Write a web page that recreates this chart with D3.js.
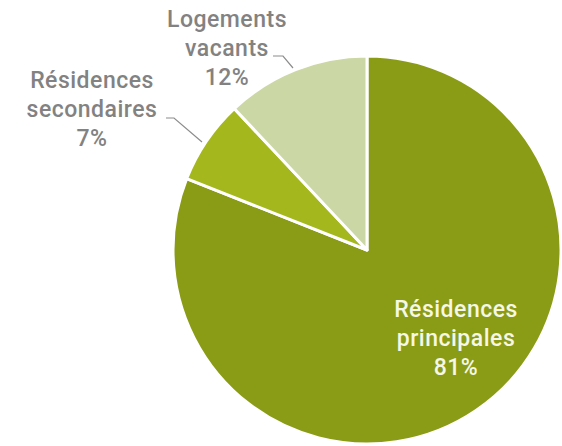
<!DOCTYPE html>
<html>
<head>
<meta charset="utf-8">
<script src="https://cdn.jsdelivr.net/npm/d3@7"></script>
<style>
  html, body { margin: 0; padding: 0; background: #fff; }
  svg { display: block; }
  text { font-family: Roboto, "Noto Sans", sans-serif; font-weight: 500; }
</style>
</head>
<body>
<svg id="chart" width="562" height="446"></svg>
<script>
// Parc de logements par type d'occupation (%)
const categories = ["Résidences principales", "Résidences secondaires", "Logements vacants"];
const labelLines = [["Résidences", "principales"], ["Résidences", "secondaires"], ["Logements", "vacants"]];
const values = [81, 7, 12];
const colors = ["#8a9c16", "#a4b81d", "#cbd7a5"];

const width = 562, height = 446;
const cx = 367, cy = 250, radius = 194;

const svg = d3.select("#chart");
const g = svg.append("g").attr("transform", `translate(${cx},${cy})`);

const pie = d3.pie().sort(null).value(d => d.value);
const arcs = pie(categories.map((c, i) => ({ name: c, value: values[i], lines: labelLines[i], color: colors[i] })));
const arc = d3.arc().innerRadius(0).outerRadius(radius);

g.selectAll("path.slice")
  .data(arcs)
  .join("path")
  .attr("class", "slice")
  .attr("d", arc)
  .attr("fill", d => d.data.color)
  .attr("stroke", "#fff")
  .attr("stroke-width", 3)
  .attr("stroke-linejoin", "round");

// Label placement: inside for the large slice, outside with leader lines for the small ones
const labelPos = [
  { x: 456, y: 317, fill: "#f6f7e6" },
  { x: 92, y: 88, fill: "#828282", leader: [[166, 118], [174, 118], [202, 142]] },
  { x: 227, y: 27, fill: "#828282", leader: [[273, 56], [283, 56], [293, 68]] }
];
const lineHeight = 29;

arcs.forEach((d, i) => {
  const p = labelPos[i];
  const t = svg.append("text")
    .attr("text-anchor", "middle")
    .attr("font-size", 23)
    .attr("letter-spacing", 0.5)
    .attr("fill", p.fill);
  const lines = d.data.lines.concat([d3.format("d")(d.data.value) + "%"]);
  lines.forEach((s, k) => {
    t.append("tspan").attr("x", p.x).attr("y", p.y + k * lineHeight).text(s);
  });
  if (p.leader) {
    svg.append("path")
      .attr("d", d3.line()(p.leader))
      .attr("fill", "none")
      .attr("stroke", "#8c8c8c")
      .attr("stroke-width", 1.2);
  }
});
</script>
</body>
</html>
